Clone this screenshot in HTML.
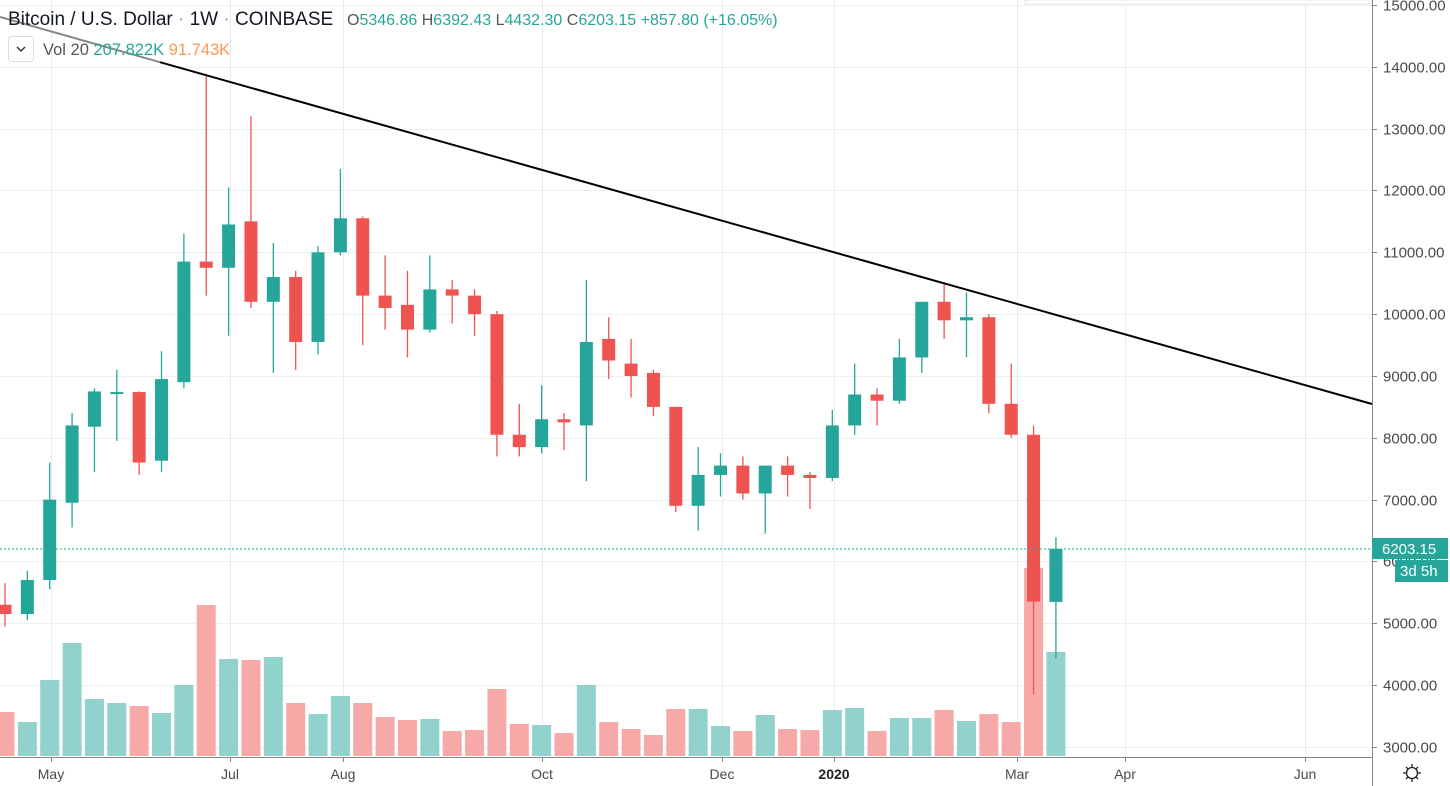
<!DOCTYPE html>
<html><head><meta charset="utf-8"><style>
html,body{margin:0;padding:0;background:#fff;width:1450px;height:786px;overflow:hidden;font-family:"Liberation Sans",sans-serif}
svg text{font-family:"Liberation Sans",sans-serif}
</style></head><body>
<svg id="s" width="1450" height="786" xmlns="http://www.w3.org/2000/svg">
<rect width="1450" height="786" fill="#fff"/>
<g id="grid"></g>
<g id="vol"></g>
<g id="cdl"></g>
<line x1="0" y1="549" x2="1372" y2="549" stroke="#26a69a" stroke-width="1" stroke-dasharray="2,2"/>
<line x1="0" y1="17" x2="160" y2="62.2" stroke="#888" stroke-width="2"/>
<line x1="160" y1="62.2" x2="1372" y2="404" stroke="#000" stroke-width="2"/>
<rect x="1025" y="0" width="347" height="4" fill="#fff" stroke="#e6e6e6"/>
<line x1="1372.5" y1="0" x2="1372.5" y2="786" stroke="#888" stroke-width="1"/>
<line x1="0" y1="757.5" x2="1372" y2="757.5" stroke="#888" stroke-width="1"/>
<g id="ax" font-size="15" fill="#4a4a4a"></g>
<rect x="1372" y="538" width="76" height="21" fill="#26a69a"/>
<text x="1382" y="554" font-size="15" fill="#fff">6203.15</text>
<rect x="1395" y="560" width="53" height="22" fill="#26a69a"/>
<text x="1400" y="576" font-size="15" fill="#fff">3d 5h</text>
<g transform="translate(1412,773)" fill="none" stroke="#222" stroke-width="1.3">
<circle r="5.5"/><line x1="0" y1="-9" x2="0" y2="-6"/><line x1="0" y1="9" x2="0" y2="6"/><line x1="-9" y1="0" x2="-6" y2="0"/><line x1="9" y1="0" x2="6" y2="0"/>
<line x1="-6" y1="-6" x2="-4.2" y2="-4.2"/><line x1="6" y1="6" x2="4.2" y2="4.2"/><line x1="-6" y1="6" x2="-4.2" y2="4.2"/><line x1="6" y1="-6" x2="4.2" y2="-4.2"/>
</g>
<text x="8" y="25" font-size="19" fill="#131722">Bitcoin / U.S. Dollar <tspan fill="#999">·</tspan> 1W <tspan fill="#999">·</tspan> COINBASE</text>
<text x="347" y="25" font-size="16" fill="#26a69a"><tspan fill="#555">O</tspan>5346.86 <tspan fill="#555">H</tspan>6392.43 <tspan fill="#555">L</tspan>4432.30 <tspan fill="#555">C</tspan>6203.15 +857.80 (+16.05%)</text>
<rect x="8.5" y="36.5" width="25" height="25" rx="3" fill="#fff" stroke="#ddd"/>
<path d="M17 47 l4 4 l4 -4" fill="none" stroke="#333" stroke-width="1.5"/>
<text x="43" y="55" font-size="16.5" fill="#555">Vol 20 <tspan fill="#26a69a">207.822K</tspan> <tspan fill="#ff9850">91.743K</tspan></text>
</svg>
<script>
const NS="http://www.w3.org/2000/svg";
function el(p,t,a){const e=document.createElementNS(NS,t);for(const k in a)e.setAttribute(k,a[k]);p.appendChild(e);return e;}
const Y=p=>5+(15000-p)*0.06183;
const grid=document.getElementById('grid'),ax=document.getElementById('ax');
for(let p=3000;p<=15000;p+=1000){const y=Math.round(Y(p))+0.5;el(grid,'line',{x1:0,y1:y,x2:1372,y2:y,stroke:'#eaeff3'});
 el(ax,'line',{x1:1372,y1:y,x2:1377,y2:y,stroke:'#888'});
 const t=el(ax,'text',{x:1383,y:y+5});t.textContent=p.toFixed(2);}
const months=[[51,'May'],[230,'Jul'],[343,'Aug'],[542,'Oct'],[722,'Dec'],[834,'2020'],[1017,'Mar'],[1125,'Apr'],[1305,'Jun']];
months.forEach(([x,l])=>{el(grid,'line',{x1:x+.5,y1:0,x2:x+.5,y2:757,stroke:'#e6edf2'});
 el(ax,'line',{x1:x+.5,y1:757,x2:x+.5,y2:762,stroke:'#888'});
 const t=el(ax,'text',{x:x,y:779,'text-anchor':'middle','font-size':14,'font-weight':l=='2020'?'bold':'normal',fill:l=='2020'?'#222':'#4a4a4a'});t.textContent=l;});
const C=[[5300,5650,4950,5150],[5150,5850,5050,5700],[5700,7600,5550,7000],[6950,8400,6550,8200],[8180,8800,7450,8750],[8720,9100,7950,8740],[8740,8750,7400,7600],[7630,9400,7450,8950],[8900,11300,8800,10850],[10850,13850,10300,10750],[10750,12050,9650,11450],[11500,13200,10100,10200],[10200,11150,9050,10600],[10600,10700,9100,9550],[9550,11100,9350,11000],[11000,12350,10950,11550],[11550,11580,9500,10300],[10300,10950,9750,10100],[10150,10700,9300,9750],[9750,10950,9700,10400],[10400,10550,9850,10300],[10300,10400,9650,10000],[10000,10050,7700,8050],[8050,8550,7700,7850],[7850,8850,7750,8300],[8300,8400,7800,8250],[8200,10550,7300,9550],[9600,9950,8950,9250],[9200,9600,8650,9000],[9050,9100,8350,8500],[8500,8500,6800,6900],[6900,7850,6500,7400],[7400,7750,7050,7550],[7550,7700,7000,7100],[7100,7550,6450,7550],[7550,7700,7050,7400],[7400,7450,6850,7350],[7350,8450,7300,8200],[8200,9200,8050,8700],[8700,8800,8200,8600],[8600,9600,8550,9300],[9300,10200,9050,10200],[10200,10500,9600,9900],[9900,10350,9300,9950],[9950,10000,8400,8550],[8550,9200,8000,8050],[8050,8200,3850,5350],[5346,6392,4432,6203]];
const V=[712,722,680,643,699,703,706,713,685,605,659,660,657,703,714,696,703,717,720,719,731,730,689,724,725,733,685,722,729,735,709,709,726,731,715,729,730,710,708,731,718,718,710,721,714,722,568,652];
const vg=document.getElementById('vol'),cg=document.getElementById('cdl');
C.forEach((c,i)=>{const x=5+i*22.36;const up=c[3]>=c[0];const col=up?'#26a69a':'#ef5350';
 el(vg,'rect',{x:x-9.5,y:V[i],width:19,height:756-V[i],fill:up?'#92d2cc':'#f7a9a7'});
 el(cg,'line',{x1:x,y1:Y(c[1]),x2:x,y2:Y(c[2]),stroke:col,'stroke-width':1.3});
 const t=Y(Math.max(c[0],c[3])),b=Y(Math.min(c[0],c[3]));
 el(cg,'rect',{x:x-6.5,y:t,width:13,height:Math.max(b-t,2),fill:col});});
</script>
</body></html>
